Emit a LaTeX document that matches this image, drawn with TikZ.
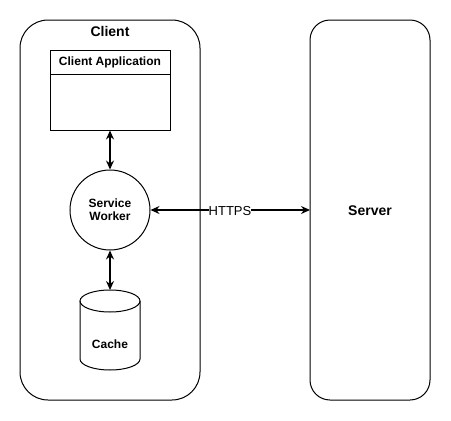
\documentclass[tikz,border=0pt]{standalone}
\usepackage{fontspec}
\setmainfont{Liberation Sans}
\usetikzlibrary{arrows.meta}
\begin{document}
\begin{tikzpicture}[x=1pt,y=-1pt,
  box/.style={draw=black,line width=1pt},
  lbl/.style={font=\bfseries\fontsize{12}{14}\selectfont,align=center},
  ttl/.style={font=\bfseries\fontsize{14}{16}\selectfont},
  conn/.style={line width=1.6pt,{Stealth[length=9pt,width=8pt,inset=3pt]}-{Stealth[length=9pt,width=8pt,inset=3pt]}}
]
\useasboundingbox (0,0) rectangle (451,421);
% containers
\draw[box,rounded corners=28pt] (20,20) rectangle (200,400);
\node[ttl] (clienttitle) at (110,31) {Client};
\draw[box,rounded corners=20pt] (310,20) rectangle (430,400);
\node[ttl] (server) at (370,211) {Server};
\coordinate (serverleft) at (310,210);
% client app
\node[box,minimum width=120pt,minimum height=80pt,inner sep=0pt] (app) at (110,90) {};
\draw[box] (50,74) -- (170,74);
\node[lbl] (apptitle) at (110,62) {Client Application};
% service worker
\node[box,circle,minimum size=80pt,inner sep=0pt] (sw) at (110,210) {};
\node[lbl] (swtext) at (110,210) {Service\\[-1pt]Worker};
% cache
\draw[box,fill=white] (80,301) -- (80,359) arc[start angle=180,end angle=0,x radius=30,y radius=11] -- (140,301);
\draw[box] (110,301) ellipse[x radius=30,y radius=11];
\coordinate (cachetop) at (110,290);
\node[lbl] (cache) at (110,344) {Cache};
% connectors
\draw[conn] (app.south) -- (sw.north);
\draw[conn] (sw.south) -- (cachetop);
\draw[conn] (sw.east) -- (serverleft);
\node[fill=white,inner sep=0pt,font=\fontsize{13}{15}\selectfont] (https) at (230,211) {HTTPS};
\end{tikzpicture}
\end{document}
